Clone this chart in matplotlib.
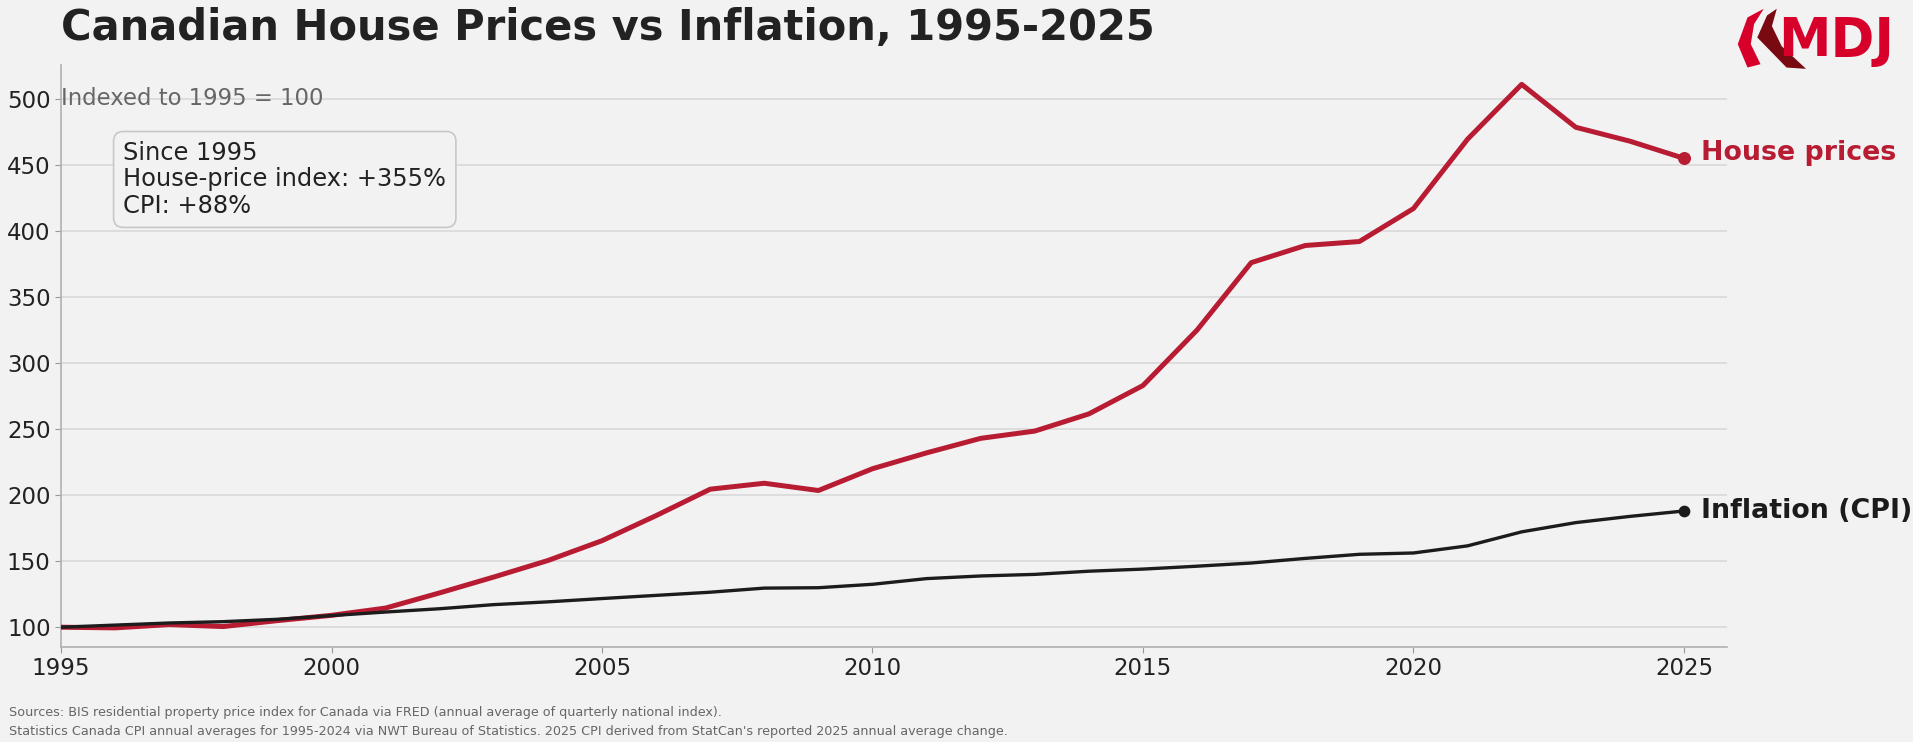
import matplotlib.pyplot as plt
from matplotlib.patches import Polygon

# annual values, indexed to 1995 = 100
years = list(range(1995, 2026))
house = [100, 99.5, 102, 100.5, 105, 109, 114.5, 126, 138, 150.5, 165.5, 184.5, 204.5, 209, 203.5,
         220, 232, 243, 248.5, 261.5, 283, 325, 376, 389, 392, 417, 469.5, 511, 478.5, 468, 455]
cpi = [100, 101.6, 103.2, 104.2, 106, 108.8, 111.5, 114, 117.1, 119.2, 121.7, 124.1, 126.5, 129.6, 129.9,
       132.5, 136.8, 138.8, 140, 142.4, 144, 146.2, 148.6, 152.1, 155.2, 156.2, 161.6, 172.2, 179.2, 183.9, 188]
xticks = [1995, 2000, 2005, 2010, 2015, 2020, 2025]
yticks = [100, 150, 200, 250, 300, 350, 400, 450, 500]

bg = '#f2f2f2'
red = '#b81c33'
dark = '#1c1c1c'

fig = plt.figure(figsize=(19.13, 7.42), dpi=100, facecolor=bg)
ax = fig.add_axes([0.0319, 0.128, 0.871, 0.785], facecolor=bg)

ax.plot(years, house, color=red, lw=3.6, solid_capstyle='round', zorder=3)
ax.plot(years, cpi, color=dark, lw=2.4, solid_capstyle='round', zorder=3)
ax.scatter([years[-1]], [house[-1]], s=70, color=red, zorder=4)
ax.scatter([years[-1]], [cpi[-1]], s=55, color=dark, zorder=4)

ax.annotate('House prices', (years[-1], house[-1]), xytext=(12, 4), textcoords='offset points',
            color=red, fontsize=19.4, fontweight='bold', va='center', ha='left', annotation_clip=False)
ax.annotate('Inflation (CPI)', (years[-1], cpi[-1]), xytext=(12, 0), textcoords='offset points',
            color=dark, fontsize=19.4, fontweight='bold', va='center', ha='left', annotation_clip=False)

ax.set_xlim(1995, 2025.8)
ax.set_ylim(85, 526)
ax.set_xticks(xticks)
ax.set_yticks(yticks)
ax.tick_params(axis='both', labelsize=16.5, colors='#999999', labelcolor='#222222', length=4)
ax.grid(axis='y', color='#d9d9d9', lw=1.2)
ax.set_axisbelow(True)
for s in ['top', 'right']:
    ax.spines[s].set_visible(False)
for s in ['left', 'bottom']:
    ax.spines[s].set_color('#b0b0b0')
    ax.spines[s].set_linewidth(1.2)

ax.text(0.0, 500, 'Indexed to 1995 = 100', color='#666666', fontsize=16.4,
        va='center', ha='left', transform=ax.get_yaxis_transform())

ax.text(1996.15, 439, 'Since 1995\nHouse-price index: +355%\nCPI: +88%', fontsize=17.4,
        color='#222222', va='center', ha='left', linespacing=1.12,
        bbox=dict(boxstyle='round,pad=0.4', facecolor='#f2f2f2', edgecolor='#c8c8c8', lw=1.2))

fig.text(0.0319, 0.962, 'Canadian House Prices vs Inflation, 1995-2025', fontsize=30,
         fontweight='bold', color='#222222', va='center', ha='left')

# logo
lax = fig.add_axes([0.905, 0.9, 0.085, 0.09])
lax.set_xlim(0, 1)
lax.set_ylim(0, 1)
lax.axis('off')
lax.text(1.0, 0.5, 'MDJ', fontsize=38, fontweight='bold', color='#d6002a',
         va='center', ha='right', transform=lax.transAxes)
lax.add_patch(Polygon([[0.04, 0.45], [0.1, 0.85], [0.2, 0.98], [0.14, 0.75], [0.12, 0.45],
                       [0.18, 0.15], [0.1, 0.1]], closed=True, color='#d6002a', lw=0))
lax.add_patch(Polygon([[0.16, 0.55], [0.22, 0.88], [0.28, 0.98], [0.25, 0.72], [0.31, 0.42],
                       [0.46, 0.08], [0.34, 0.1]], closed=True, color='#7a0a12', lw=0))

fig.text(0.0045, 0.04, 'Sources: BIS residential property price index for Canada via FRED '
         '(annual average of quarterly national index).', fontsize=9.2, color='#666666', va='center')
fig.text(0.0045, 0.014, 'Statistics Canada CPI annual averages for 1995-2024 via NWT Bureau of Statistics. '
         "2025 CPI derived from StatCan's reported 2025 annual average change.",
         fontsize=9.2, color='#666666', va='center')

fig.savefig('out.png', dpi=100, facecolor=bg)
